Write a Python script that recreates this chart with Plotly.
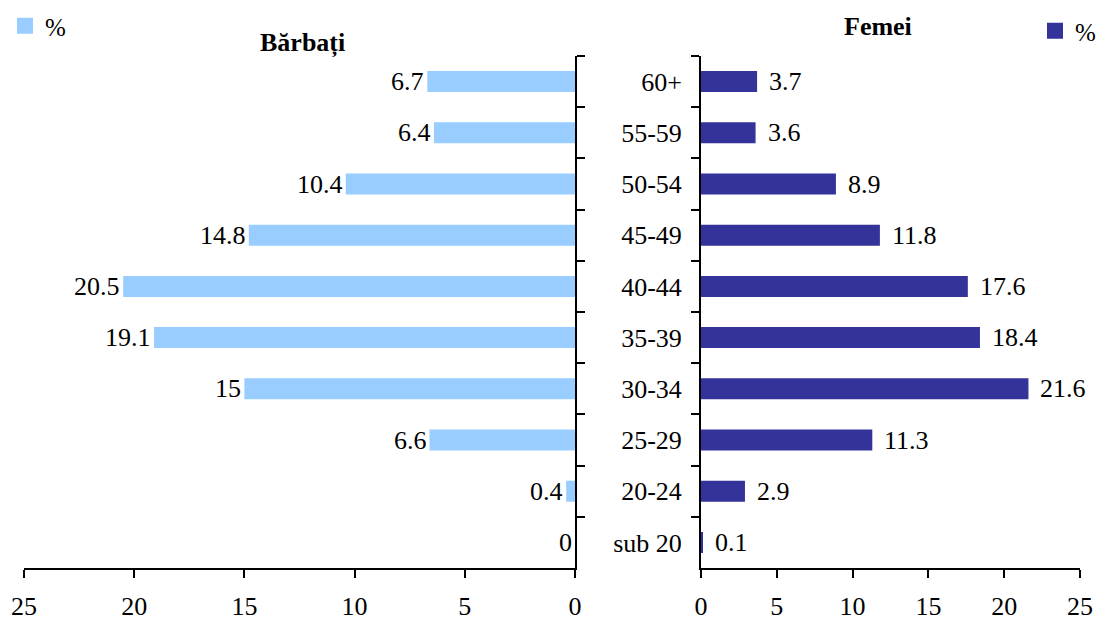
import plotly.graph_objects as go

categories = ["sub 20", "20-24", "25-29", "30-34", "35-39", "40-44", "45-49", "50-54", "55-59", "60+"]
barbati = [0, 0.4, 6.6, 15, 19.1, 20.5, 14.8, 10.4, 6.4, 6.7]
femei = [0.1, 2.9, 11.3, 21.6, 18.4, 17.6, 11.8, 8.9, 3.6, 3.7]
x_ticks = [0, 5, 10, 15, 20, 25]

# the page body has an 8px margin; the figure is sized so it fits the window
OFF = 8
W, H = 1104 - OFF, 619 - OFF
FONT = "Liberation Serif"
FS = 26
left_col = "#99CCFF"
right_col = "#333399"


def px(v):
    return (v - OFF) / W


def py(v):
    return 1 - (v - OFF) / H


fig = go.Figure()
fig.add_trace(go.Bar(
    y=categories, x=barbati, orientation="h", name="%",
    marker=dict(color=left_col, line=dict(width=0)),
    width=0.41, showlegend=False,
    xaxis="x", yaxis="y",
))
fig.add_trace(go.Bar(
    y=categories, x=femei, orientation="h", name="%",
    marker=dict(color=right_col, line=dict(width=0)),
    width=0.41, showlegend=False, xaxis="x2", yaxis="y2",
))
# legend entries
fig.add_trace(go.Scatter(
    x=[None], y=[None], mode="markers", name="%",
    marker=dict(symbol="square", size=18, color=left_col),
    legend="legend", xaxis="x", yaxis="y", showlegend=True,
))
fig.add_trace(go.Scatter(
    x=[None], y=[None], mode="markers", name="%",
    marker=dict(symbol="square", size=18, color=right_col),
    legend="legend2", xaxis="x2", yaxis="y2", showlegend=True,
))

# value labels, placed at the bar ends through the axes' scales
annotations = []
for cat, v in zip(categories, barbati):
    annotations.append(dict(x=v, y=cat, xref="x", yref="y", text=f"{v:g}",
                            xanchor="right", yanchor="middle", xshift=-1,
                            showarrow=False, font=dict(family=FONT, size=FS, color="black")))
for cat, v in zip(categories, femei):
    annotations.append(dict(x=v, y=cat, xref="x2", yref="y2", text=f"{v:g}",
                            xanchor="left", yanchor="middle", xshift=10,
                            showarrow=False, font=dict(family=FONT, size=FS, color="black")))
annotations += [
    dict(text="<b>Bărbați</b>", x=px(302), y=py(43), xref="paper", yref="paper",
         xanchor="center", yanchor="middle",
         showarrow=False, font=dict(family=FONT, size=26, color="black")),
    dict(text="<b>Femei</b>", x=px(878), y=py(27), xref="paper", yref="paper",
         xanchor="center", yanchor="middle",
         showarrow=False, font=dict(family=FONT, size=26, color="black")),
]

ydom = [py(568), py(56)]
axis_common = dict(showline=True, linecolor="black", linewidth=2, ticks="outside",
                   ticklen=8, tickwidth=2, tickcolor="black", showgrid=False, zeroline=False,
                   automargin=False,
                   tickfont=dict(family=FONT, size=FS, color="black"))

fig.update_layout(
    width=W, height=H,
    margin=dict(l=0, r=0, t=0, b=0, autoexpand=False),
    paper_bgcolor="white", plot_bgcolor="white",
    font=dict(family=FONT, size=FS, color="black"),
    showlegend=True,
    xaxis=dict(domain=[px(24), px(575)], range=[25, 0], tickvals=x_ticks, anchor="y",
               ticklabelstandoff=6, **axis_common),
    yaxis=dict(domain=ydom, anchor="x", side="right", showticklabels=False,
               type="category", categoryorder="array", categoryarray=categories,
               range=[-0.5, 9.5], tickson="boundaries", **axis_common),
    xaxis2=dict(domain=[px(701), px(1080)], range=[0, 25], tickvals=x_ticks, anchor="y2",
                ticklabelstandoff=6, **axis_common),
    yaxis2=dict(domain=ydom, anchor="x2", side="left",
                type="category", categoryorder="array", categoryarray=categories,
                range=[-0.5, 9.5], tickson="boundaries", ticklabelstandoff=12, **axis_common),
    legend=dict(x=px(5), y=py(26), xanchor="left", yanchor="middle",
                font=dict(family=FONT, size=25, color="black"),
                bgcolor="rgba(0,0,0,0)", itemwidth=30),
    legend2=dict(x=px(1035), y=py(31), xanchor="left", yanchor="middle",
                 font=dict(family=FONT, size=25, color="black"),
                 bgcolor="rgba(0,0,0,0)", itemwidth=30),
    annotations=annotations,
)

fig.write_html("out.html")
